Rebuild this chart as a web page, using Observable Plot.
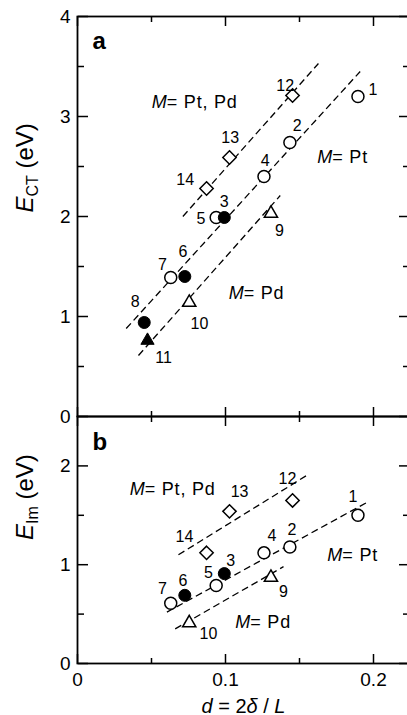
<!DOCTYPE html>
<html><head><meta charset="utf-8">
<script src="https://cdn.jsdelivr.net/npm/d3@7"></script>
<script src="https://cdn.jsdelivr.net/npm/@observablehq/plot@0.6"></script>
<style>
body{margin:0;background:#fff;}
#wrap{position:relative;width:407px;height:715px;overflow:hidden;}
#wrap svg{position:absolute;left:0;max-width:none !important;}
</style></head><body><div id="wrap"></div>
<script>
// ---- data ----
const ids = [1,2,3,4,5,6,7,8,9,10,11,12,13,14];
const dVals = [0.1895,0.1435,0.0992,0.1260,0.0937,0.0725,0.0630,0.0451,0.1307,0.0755,0.0473,0.1453,0.1027,0.0872];
const eCT = [3.20,2.74,1.99,2.40,1.99,1.40,1.39,0.94,2.03,1.14,0.76,3.21,2.59,2.28];
const eIm = [1.50,1.18,0.91,1.12,0.79,0.69,0.61,null,0.87,0.41,null,1.65,1.54,1.12];
const markerKind = ["open-circle","open-circle","filled-circle","open-circle","open-circle","filled-circle","open-circle","filled-circle","open-triangle","open-triangle","filled-triangle","diamond","diamond","diamond"];

// point-number label positions (data units)
const labelAx = [0.1996,0.1484,0.0991,0.1268,0.0834,0.0712,0.0574,0.0390,0.1365,0.0824,0.0581,0.1403,0.1032,0.0728];
const labelAy = [3.27,2.91,2.15,2.56,1.98,1.65,1.52,1.15,1.86,0.93,0.59,3.31,2.79,2.37];
const labelBx = [0.1861,0.1449,0.1036,0.1314,0.0885,0.0712,0.0574,null,0.1392,0.0885,null,0.1419,0.1095,0.0723];
const labelBy = [1.69,1.35,1.04,1.29,0.92,0.84,0.76,null,0.73,0.30,null,1.87,1.74,1.28];

// dashed guide lines (groups: Pt/Pd diamonds, Pt, Pd)
const fitGroups = ["M= Pt, Pd","M= Pt","M= Pd"];
const fitAx1 = [0.0712,0.0329,0.0412], fitAy1 = [2.00,0.88,0.61];
const fitAx2 = [0.1628,0.1910,0.1370], fitAy2 = [3.53,3.45,2.21];
const fitBx1 = [0.0682,0.0604,0.0660], fitBy1 = [1.10,0.52,0.35];
const fitBx2 = [0.1545,0.1955,0.1392], fitBy2 = [1.90,1.63,0.98];
const annAx = [0.0603,0.1721,0.1123], annAy = [3.14,2.59,1.23];
const annBx = [0.0454,0.1789,0.1167], annBy = [1.765,1.094,0.414];

const xMajor = [0,0.1,0.2], xMinor = [0.05,0.15];
const xTickLabels = ["0","0.1","0.2"];
const yAMajor = [0,1,2,3,4], yAMinor = [0.5,1.5,2.5,3.5];
const yBMajor = [0,1,2], yBMinor = [0.5,1.5];

const FONT = "'Liberation Sans', Arial, Helvetica, sans-serif";

function panel(o){
  const idx = ids.map((_, i) => i).filter(i => o.yv[i] != null);
  const kind = k => idx.filter(i => markerKind[i] === k);
  const tickCommon = {fill: "none", label: null, strokeWidth: 1.5};
  const marks = [
    Plot.axisY(o.yMajor, {...tickCommon, anchor: "right", frameAnchor: "left", tickSize: 10}),
    Plot.axisY(o.yMinor, {...tickCommon, anchor: "right", frameAnchor: "left", tickSize: 6}),
    Plot.axisY(o.yMajor, {...tickCommon, anchor: "left", frameAnchor: "right", tickSize: 10}),
    Plot.axisY(o.yMinor, {...tickCommon, anchor: "left", frameAnchor: "right", tickSize: 6}),
    Plot.axisX(xMajor, {...tickCommon, anchor: "bottom", frameAnchor: "top", tickSize: 10}),
    Plot.axisX(xMinor, {...tickCommon, anchor: "bottom", frameAnchor: "top", tickSize: 6}),
    Plot.axisX(xMajor, {...tickCommon, anchor: "top", frameAnchor: "bottom", tickSize: 10}),
    Plot.axisX(xMinor, {...tickCommon, anchor: "top", frameAnchor: "bottom", tickSize: 6}),
    Plot.axisY(o.yMajor, {anchor: "left", tickSize: 0, tickPadding: 7, fontSize: 19, label: null, tickFormat: d => String(d)}),
    Plot.frame({strokeWidth: 1.8}),
    Plot.link([0,1,2], {x1: i => o.fx1[i], y1: i => o.fy1[i], x2: i => o.fx2[i], y2: i => o.fy2[i],
      stroke: "black", strokeWidth: 1.3, strokeDasharray: "7,4"}),
    Plot.dot(kind("open-circle"), {x: i => dVals[i], y: i => o.yv[i], r: 6, fill: "white", stroke: "black", strokeWidth: 1.5}),
    Plot.dot(kind("filled-circle"), {x: i => dVals[i], y: i => o.yv[i], r: 6, fill: "black", stroke: "black", strokeWidth: 1}),
    Plot.dot(kind("open-triangle"), {x: i => dVals[i], y: i => o.yv[i], r: 6.3, symbol: "triangle2", fill: "white", stroke: "black", strokeWidth: 1.5}),
    Plot.dot(kind("filled-triangle"), {x: i => dVals[i], y: i => o.yv[i], r: 6.3, symbol: "triangle2", fill: "black", stroke: "black", strokeWidth: 1}),
    Plot.dot(kind("diamond"), {x: i => dVals[i], y: i => o.yv[i], r: 6, symbol: "diamond2", fill: "white", stroke: "black", strokeWidth: 1.5}),
    Plot.text(idx, {x: i => o.lx[i], y: i => o.ly[i], text: i => String(ids[i]), fontSize: 16}),
    Plot.text([0,1,2], {x: i => o.ax[i], y: i => o.ay[i], text: i => fitGroups[i].slice(0,1), fontStyle: "italic", textAnchor: "end", fontSize: 18}),
    Plot.text([0,1,2], {x: i => o.ax[i], y: i => o.ay[i], text: i => fitGroups[i].slice(1), textAnchor: "start", fontSize: 18, className: "ann-rest"}),
    Plot.text([o.letter], {frameAnchor: "top-left", dx: 15, dy: o.letterDy, lineAnchor: "bottom", textAnchor: "start", fontWeight: "bold", fontSize: 24}),
    Plot.text(["__YT__"], {frameAnchor: "left", rotate: -90, dx: -52, dy: o.ytDy, fontSize: 24})
  ];
  if (o.showX) {
    marks.push(Plot.axisX(xMajor, {anchor: "bottom", tickSize: 0, tickPadding: 9, fontSize: 19, label: null, tickFormat: (d, i) => xTickLabels[i]}));
    marks.push(Plot.text(["__XT__"], {frameAnchor: "bottom", dy: 49, lineAnchor: "bottom", fontSize: 20}));
  }
  const svg = Plot.plot({
    width: 409, height: o.height,
    marginLeft: 77, marginRight: 0, marginTop: o.marginTop, marginBottom: o.marginBottom,
    style: {background: "transparent", overflow: "visible", fontFamily: FONT, color: "black", maxWidth: "none"},
    x: {domain: [0, (409-77)/1480], axis: null},
    y: {domain: o.yDomain, axis: null},
    marks
  });
  svg.querySelectorAll("g.ann-rest text").forEach(t => t.setAttribute("letter-spacing", "0.8"));
  // rich text titles
  svg.querySelectorAll("text").forEach(t => {
    if (t.textContent === "__YT__") {
      t.textContent = "";
      const s = d3.select(t);
      s.append("tspan").attr("font-style", "italic").text("E");
      s.append("tspan").attr("font-size", 16).attr("dy", 5).text(o.ySub);
      s.append("tspan").attr("dy", -5).text(" (eV)");
    } else if (t.textContent === "__XT__") {
      t.textContent = "";
      const s = d3.select(t);
      s.append("tspan").attr("font-style", "italic").text("d");
      s.append("tspan").text(" = 2");
      s.append("tspan").attr("font-style", "italic").text("δ");
      s.append("tspan").text(" / ");
      s.append("tspan").attr("font-style", "italic").text("L");
    }
  });
  svg.style.top = o.top + "px";
  return svg;
}

const wrap = document.getElementById("wrap");
wrap.appendChild(panel({
  yv: eCT, lx: labelAx, ly: labelAy, fx1: fitAx1, fy1: fitAy1, fx2: fitAx2, fy2: fitAy2,
  ax: annAx, ay: annAy, yDomain: [0, 4], yMajor: yAMajor, yMinor: yAMinor,
  letter: "a", letterDy: 32, ySub: "CT", ytDy: -4, height: 426, marginTop: 16, marginBottom: 10, top: 0, showX: false
}));
wrap.appendChild(panel({
  yv: eIm, lx: labelBx, ly: labelBy, fx1: fitBx1, fy1: fitBy1, fx2: fitBx2, fy2: fitBy2,
  ax: annBx, ay: annBy, yDomain: [0, 2.5], yMajor: yBMajor, yMinor: yBMinor,
  letter: "b", letterDy: 33, ySub: "Im", ytDy: 0, height: 309, marginTop: 10, marginBottom: 52, top: 406, showX: true
}));
</script></body></html>
